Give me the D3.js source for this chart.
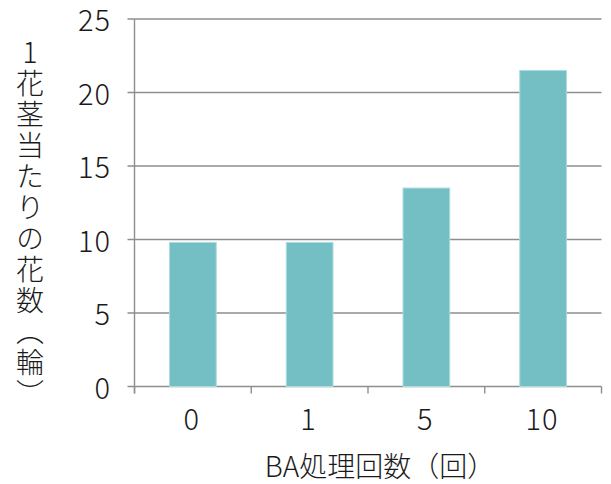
<!DOCTYPE html>
<html>
<head>
<meta charset="utf-8">
<script src="https://cdn.jsdelivr.net/npm/d3@7"></script>
<style>
  html, body { margin: 0; padding: 0; background: #fff; }
  svg { display: block; }
  text { font-family: "Noto Sans CJK JP", "Noto Sans", sans-serif; font-weight: 300; fill: #1a1a1a; }
</style>
</head>
<body>
<svg id="chart" width="611" height="484"></svg>
<script>
// BA treatment counts and flowers per stem
const categories = ["0", "1", "5", "10"];
const values = [9.8, 9.8, 13.5, 21.5];
const yTicks = [0, 5, 10, 15, 20, 25];
const xTitle = "BA処理回数（回）";
const yTitle = "1花茎当たりの花数（輪）";

const svg = d3.select("#chart");
const plotLeft = 134.5, plotRight = 601.5, plotTop = 19, plotBottom = 386.5;

const x = d3.scaleBand()
  .domain(categories)
  .range([plotLeft, plotRight])
  .paddingInner(0.6)
  .paddingOuter(0.3);

const y = d3.scaleLinear().domain([0, 25]).range([plotBottom, plotTop]);

const gridColor = "#8e8e8e";

// horizontal gridlines with short left ticks
svg.append("g").selectAll("line")
  .data(yTicks)
  .join("line")
  .attr("x1", plotLeft - 7).attr("x2", plotRight)
  .attr("y1", d => y(d)).attr("y2", d => y(d))
  .attr("stroke", gridColor).attr("stroke-width", 1.4);

// y axis tick labels
svg.append("g").selectAll("text")
  .data(yTicks)
  .join("text")
  .attr("x", 111)
  .attr("y", d => y(d) - 1)
  .attr("text-anchor", "end")
  .attr("dominant-baseline", "central")
  .attr("font-size", 29)
  .style("letter-spacing", "1px")
  .text(d => d);

// vertical axis line
svg.append("line")
  .attr("x1", plotLeft).attr("x2", plotLeft)
  .attr("y1", plotTop).attr("y2", plotBottom + 7)
  .attr("stroke", gridColor).attr("stroke-width", 1.4);

// category boundary ticks below the baseline
const step = x.step();
const bounds = categories.map(c => x(c) - step * x.paddingInner() / 2).concat([plotRight]);
svg.append("g").selectAll("line")
  .data(bounds)
  .join("line")
  .attr("x1", d => d).attr("x2", d => d)
  .attr("y1", plotBottom).attr("y2", plotBottom + 7)
  .attr("stroke", gridColor).attr("stroke-width", 1.4);

// bars
svg.append("g").selectAll("rect")
  .data(values)
  .join("rect")
  .attr("x", (d, i) => x(categories[i]))
  .attr("width", x.bandwidth())
  .attr("y", d => y(d))
  .attr("height", d => plotBottom - y(d))
  .attr("fill", "#73bfc4")
  .attr("stroke", "#a9dcdf")
  .attr("stroke-width", 1);

// x category labels
svg.append("g").selectAll("text")
  .data(categories)
  .join("text")
  .attr("x", c => x(c) + x.bandwidth() / 2 - 1)
  .attr("y", 430)
  .attr("text-anchor", "middle")
  .attr("font-size", 29)
  .style("letter-spacing", "1px")
  .text(c => c);

// x axis title
svg.append("text")
  .attr("x", 380)
  .attr("y", 477)
  .attr("text-anchor", "middle")
  .attr("font-size", 28)
  .text(xTitle);

// y axis title, set vertically with upright characters
svg.append("text")
  .attr("x", 30)
  .attr("y", 38)
  .attr("font-size", 28)
  .style("writing-mode", "vertical-rl")
  .style("text-orientation", "upright")
  .style("letter-spacing", "3px")
  .text(yTitle);
</script>
</body>
</html>
